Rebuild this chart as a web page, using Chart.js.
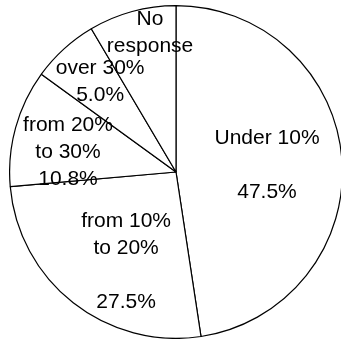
<!DOCTYPE html>
<html>
<head>
<meta charset="utf-8">
<script src="https://cdn.jsdelivr.net/npm/chart.js@4/dist/chart.umd.min.js"></script>
<style>
  html, body { margin: 0; padding: 0; background: #fff; overflow: hidden; width: 341px; height: 341px; }
  #chart { position: absolute; left: 9px; top: 5px; }
</style>
</head>
<body>
<canvas id="chart" width="334" height="334"></canvas>
<script>
// slice sizes as drawn (clockwise from 12 o'clock)
var categories = ["Under 10%", "from 10% to 20%", "from 20% to 30%", "over 30%", "No response"];
var sliceValues = [47.6, 26.0, 11.4, 6.5, 8.5];
// text printed inside each slice
var sliceTexts = [
    "Under 10%\n\n47.5%",
    "from 10%\nto 20%\n\n27.5%",
    "from 20%\nto 30%\n10.8%",
    "over 30%\n5.0%",
    "No\nresponse"
];

// where each text block sits, as a fraction of the radius from the centre
var textOffsets = [[0.547, -0.039], [-0.300, 0.541], [-0.649, -0.117], [-0.456, -0.544], [-0.156, -0.838]];

var sliceText = {
    id: "sliceText",
    afterDatasetsDraw: function (chart) {
        var ctx = chart.ctx;
        var arcs = chart.getDatasetMeta(0).data;
        ctx.save();
        ctx.fillStyle = "#000";
        ctx.font = "21px 'Liberation Sans', Arial, sans-serif";
        ctx.textAlign = "center";
        ctx.textBaseline = "middle";
        var lineHeight = 27;
        arcs.forEach(function (arc, i) {
            var r = arc.outerRadius;
            var cx = arc.x + textOffsets[i][0] * r;
            var cy = arc.y + textOffsets[i][1] * r;
            var lines = sliceTexts[i].split("\n");
            var top = cy - (lines.length - 1) * lineHeight / 2;
            lines.forEach(function (line, j) {
                if (line) ctx.fillText(line, cx, top + j * lineHeight);
            });
        });
        ctx.restore();
    }
};

new Chart(document.getElementById("chart"), {
    type: "pie",
    data: {
        labels: categories,
        datasets: [{
            data: sliceValues,
            backgroundColor: "#fff",
            borderColor: "#000",
            borderWidth: 1.2
        }]
    },
    options: {
        responsive: false,
        animation: false,
        layout: { padding: 0 },
        plugins: {
            legend: { display: false },
            tooltip: { enabled: false }
        }
    },
    plugins: [sliceText]
});
</script>
</body>
</html>
